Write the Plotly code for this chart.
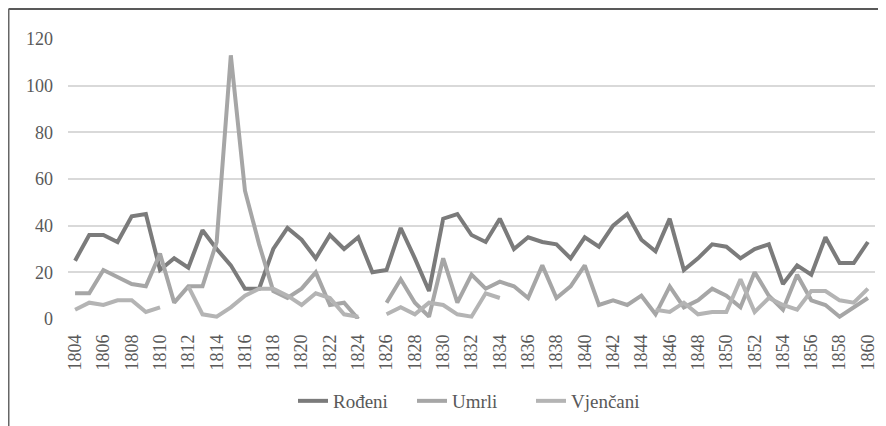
import plotly.graph_objects as go

years = list(range(1804, 1861))

rodeni = [25, 36, 36, 33, 44, 45, 21, 26, 22, 38, 30, 23, 13, 13, 30, 39, 34, 26, 36, 30, 35,
          20, 21, 39, 26, 12, 43, 45, 36, 33, 43, 30, 35, 33, 32, 26, 35, 31, 40, 45, 34, 29,
          43, 21, 26, 32, 31, 26, 30, 32, 15, 23, 19, 35, 24, 24, 33]

umrli = [11, 11, 21, 18, 15, 14, 28, 7, 14, 14, 33, 113, 55, 32, 12, 9, 13, 20, 6, 7, 0,
         None, 7, 17, 7, 1, 26, 7, 19, 13, 16, 14, 9, 23, 9, 14, 23, 6, 8, 6, 10, 2,
         14, 5, 8, 13, 10, 5, 20, 10, 4, 19, 8, 6, 1, 5, 9]

vjencani = [4, 7, 6, 8, 8, 3, 5, None, 14, 2, 1, 5, 10, 13, 13, 10, 6, 11, 9, 2, 1,
            None, 2, 5, 2, 7, 6, 2, 1, 11, 9, None, None, None, None, None, None, None, None, None, None, 4,
            3, 7, 2, 3, 3, 17, 3, 9, 6, 4, 12, 12, 8, 7, 13]

tick_years = list(range(1804, 1861, 2))

FONT = "Liberation Serif, Times New Roman, serif"

W, H = 878, 418
L, R, T, B = 60, 11, 31, 107
PW, PH = W - L - R, H - T - B

fig = go.Figure()
fig.add_trace(go.Scatter(x=years, y=rodeni, name="Rođeni", mode="lines",
                         line=dict(color="#7b7b7b", width=4), connectgaps=False))
fig.add_trace(go.Scatter(x=years, y=umrli, name="Umrli", mode="lines",
                         line=dict(color="#a6a6a6", width=4), connectgaps=False))
fig.add_trace(go.Scatter(x=years, y=vjencani, name="Vjenčani", mode="lines",
                         line=dict(color="#b4b4b4", width=4), connectgaps=False))

fig.update_layout(
    width=W, height=H,
    margin=dict(l=L, r=R, t=T, b=B, autoexpand=False),
    paper_bgcolor="white", plot_bgcolor="white",
    font=dict(family=FONT, size=18, color="#595959"),
    showlegend=True,
    legend=dict(orientation="h", x=0.5, xanchor="center", y=-0.225, yanchor="top",
                font=dict(family=FONT, size=19, color="#595959"),
                entrywidth=74, entrywidthmode="pixels"),
    xaxis=dict(range=[1803.5, 1860.5], tickmode="array", tickvals=tick_years,
               ticktext=[str(y) for y in tick_years], tickangle=-90,
               showgrid=False, zeroline=False, showline=False, ticks="",
               ticklabelstandoff=11, automargin=False),
    yaxis=dict(range=[0, 120], tickvals=[0, 20, 40, 60, 80, 100, 120],
               showgrid=True, gridcolor="#d9d9d9", gridwidth=1.5, zeroline=False,
               showline=False, ticks="", ticklabelstandoff=14, automargin=False),
    shapes=[
        dict(type="line", xref="paper", yref="paper",
             x0=(0.5 - L) / PW, x1=(W - L) / PW,
             y0=1 + (T - 1) / PH, y1=1 + (T - 1) / PH,
             line=dict(color="#222222", width=1.5)),
        dict(type="line", xref="paper", yref="paper",
             x0=(0.5 - L) / PW, x1=(0.5 - L) / PW,
             y0=1 + (T - 1) / PH, y1=-(B + 5) / PH,
             line=dict(color="#666666", width=2)),
    ],
)

fig.write_html("out.html")
